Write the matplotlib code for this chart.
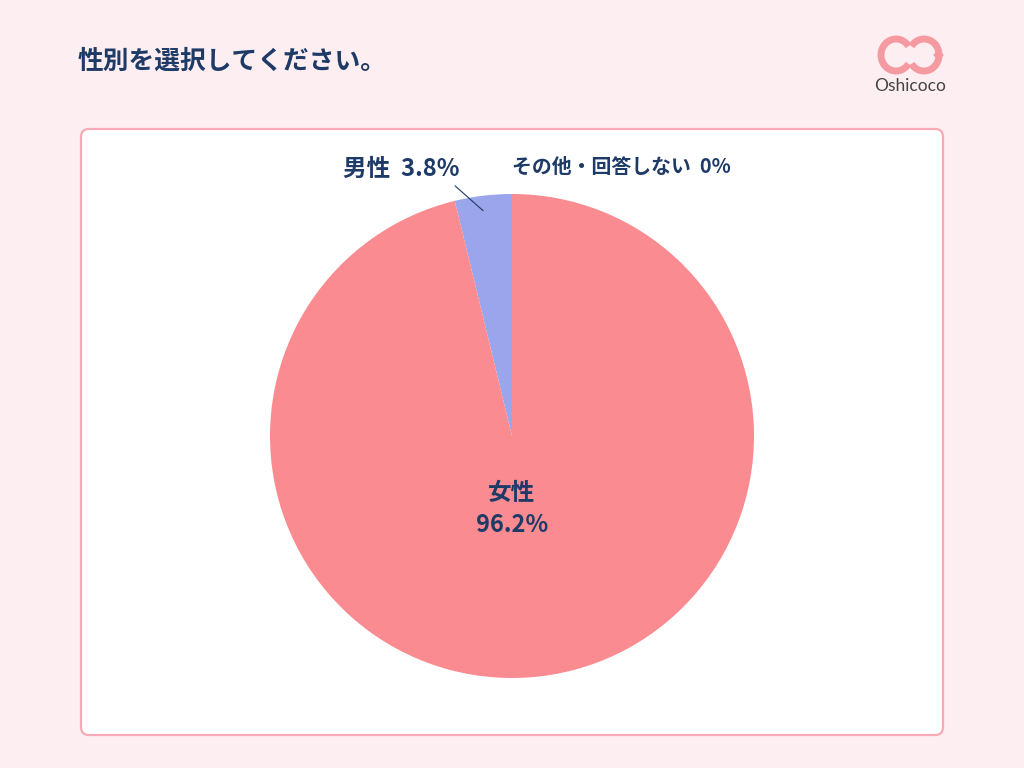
import matplotlib
matplotlib.use("Agg")
import matplotlib.pyplot as plt
from matplotlib.patches import FancyBboxPatch, Arc, Polygon
import numpy as np

plt.rcParams['font.family'] = ['Noto Sans CJK JP', 'DejaVu Sans']

title = "性別を選択してください。"
categories = ["男性", "女性", "その他・回答しない"]
values = [3.8, 96.2, 0.0]
colors = ["#9BA5EC", "#F98B91", "#C8C8C8"]
navy = "#1E3A66"

W, H = 1024, 768
fig = plt.figure(figsize=(W / 100, H / 100), dpi=100)
fig.patch.set_facecolor("#FDEEF1")

def fx(x):
    return x / W

def fy(y):
    return 1 - y / H

# panel
bg = fig.add_axes([0, 0, 1, 1])
bg.set_xlim(0, W)
bg.set_ylim(H, 0)
bg.axis("off")
panel = FancyBboxPatch((81, 129), 862, 606, boxstyle="round,pad=0,rounding_size=8",
                       facecolor="white", edgecolor="#F7AAB5", linewidth=1.6)
bg.add_patch(panel)

# logo
lc = "#F69AA2"
bg.add_patch(Arc((896, 55), 30, 32, theta1=35, theta2=325, color=lc, lw=5))
bg.add_patch(Arc((924, 55), 30, 32, theta1=215, theta2=145, color=lc, lw=5))
bg.add_patch(Polygon([[934, 55], [938.5, 50.5], [943, 55], [938.5, 59.5]], closed=True, color=lc))
bg.text(910, 86, "Oshicoco", ha="center", va="center", fontsize=12.5, color="#444444",
        family=["Lato", "DejaVu Sans"])

# title
fig.text(fx(78), fy(61), title, fontsize=18.5, fontweight="bold", color=navy,
         ha="left", va="center")

# pie
cx, cy, r = 512, 436, 242
ax = fig.add_axes([fx(cx - r), fy(cy + r), 2 * r / W, 2 * r / H])
wedges, _ = ax.pie(values, colors=colors, startangle=90, counterclock=True,
                   wedgeprops=dict(linewidth=0))
ax.set_xlim(-1, 1)
ax.set_ylim(-1, 1)

# labels
mid = np.deg2rad(90 + values[0] / 100 * 360 / 2)
ax.annotate("", xy=(np.cos(mid) * 0.93, np.sin(mid) * 0.93),
            xytext=(fx(453), fy(184)), textcoords="figure fraction",
            arrowprops=dict(arrowstyle="-", color=navy, lw=0.8))
fig.text(fx(401), fy(169), f"{categories[0]}  {values[0]:.1f}%", fontsize=17,
         fontweight="bold", color=navy, ha="center", va="center")
fig.text(fx(621), fy(166), f"{categories[2]}  {values[2]:.0f}%", fontsize=14.3,
         fontweight="bold", color=navy, ha="center", va="center")
fig.text(fx(512), fy(493), categories[1], fontsize=17, fontweight="bold",
         color=navy, ha="center", va="center")
fig.text(fx(512), fy(525), f"{values[1]:.1f}%", fontsize=17, fontweight="bold",
         color=navy, ha="center", va="center")

fig.savefig("out.png", dpi=100, facecolor=fig.get_facecolor())
